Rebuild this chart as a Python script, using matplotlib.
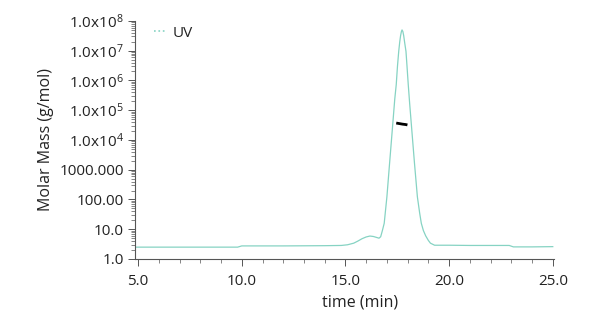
#!/usr/bin/env python
# coding: utf-8

import matplotlib
matplotlib.use('Agg')
import matplotlib.pyplot as plt
from matplotlib.lines import Line2D
from matplotlib.ticker import FixedLocator, FixedFormatter, MultipleLocator, LogLocator, NullFormatter

plt.rcParams['font.family'] = ['Open Sans', 'DejaVu Sans']
plt.rcParams['mathtext.fontset'] = 'custom'
plt.rcParams['mathtext.rm'] = 'Open Sans'
plt.rcParams['mathtext.it'] = 'Open Sans'

# UV trace
uv_time = [4.85, 6.0, 8.0, 9.8, 10.0, 12.0, 14.0, 14.8, 15.1, 15.4, 15.6, 15.8,
           16.0, 16.18, 16.35, 16.5, 16.62, 16.7, 16.78, 16.87, 17.0, 17.13, 17.26,
           17.38, 17.45, 17.51, 17.57, 17.62, 17.66, 17.7, 17.73, 17.77, 17.81,
           17.86, 17.92, 17.97, 18.03, 18.1, 18.2,
           18.33, 18.47, 18.58, 18.66, 18.76, 18.87, 19.0, 19.1, 19.3, 20.0, 21.0,
           22.0, 22.9, 23.1, 24.0, 25.0]
uv_value = [2.5, 2.5, 2.5, 2.5, 2.75, 2.75, 2.8, 2.85, 3.0, 3.4, 4.0, 4.8,
            5.5, 5.9, 5.7, 5.3, 5.0, 5.6, 8.9, 15.8, 123, 1660, 2.19e4,
            2.4e5, 7.2e5, 3.0e6, 9.5e6, 2.0e7, 3.2e7, 4.4e7, 5.0e7, 4.4e7, 3.2e7,
            1.8e7, 9.5e6, 3.0e6, 7.2e5, 1.6e5, 2.19e4,
            1660, 123, 35, 15.8, 9.0, 6.0, 4.2, 3.4, 2.9, 2.9, 2.85,
            2.85, 2.85, 2.55, 2.55, 2.6]

# molar mass across the peak
mm_time = [17.45, 17.6, 17.75, 17.9, 17.99]
mm_value = [3.7e4, 3.55e4, 3.4e4, 3.3e4, 3.2e4]

y_ticks = [1, 10, 100, 1000, 1e4, 1e5, 1e6, 1e7, 1e8]
y_labels = ['1.0', '10.0', '100.00', '1000.000', r'1.0x10$^{4}$', r'1.0x10$^{5}$',
            r'1.0x10$^{6}$', r'1.0x10$^{7}$', r'1.0x10$^{8}$']
x_ticks = [5, 10, 15, 20, 25]

uv_color = '#86d3c3'
text_color = '#222222'

fig = plt.figure(figsize=(6.0, 3.27), dpi=100)
ax = fig.add_axes([0.225, 0.208, 0.698, 0.728])

ax.plot(uv_time, uv_value, color=uv_color, lw=0.9)
ax.plot(mm_time, mm_value, color='black', lw=2.0, solid_capstyle='butt')

ax.set_yscale('log')
ax.set_xlim(4.85, 25.05)
ax.set_ylim(1, 1e8)

ax.yaxis.set_major_locator(FixedLocator(y_ticks))
ax.yaxis.set_major_formatter(FixedFormatter(y_labels))
ax.yaxis.set_minor_locator(LogLocator(base=10, subs=range(2, 10), numticks=20))
ax.yaxis.set_minor_formatter(NullFormatter())
ax.set_xticks(x_ticks)
ax.set_xticklabels(['%.1f' % x for x in x_ticks])
ax.xaxis.set_minor_locator(MultipleLocator(1))

for side in ['top', 'right']:
    ax.spines[side].set_visible(False)
for side in ['left', 'bottom']:
    ax.spines[side].set_color('#555555')
    ax.spines[side].set_linewidth(0.8)

ax.tick_params(axis='both', which='major', length=5, width=0.7, color='#555555',
               labelsize=11, labelcolor=text_color)
ax.tick_params(axis='both', which='minor', length=3, width=0.5, color='#555555')
ax.tick_params(axis='x', pad=6)
ax.tick_params(axis='y', pad=3)

ax.set_xlabel('time (min)', fontsize=11.5, color=text_color, labelpad=4)
ax.xaxis.label.set_x(0.537)
ax.set_ylabel('Molar Mass (g/mol)', fontsize=11.5, color=text_color, labelpad=4)

handle = Line2D([], [], color=uv_color, lw=1.2, linestyle=':')
ax.legend([handle], ['UV'], loc='upper left', bbox_to_anchor=(0.035, 1.0),
          frameon=False, handlelength=0.7, handletextpad=0.5, fontsize=11,
          labelcolor=text_color, borderaxespad=0, borderpad=0.3)

fig.savefig('out.png', dpi=100)
